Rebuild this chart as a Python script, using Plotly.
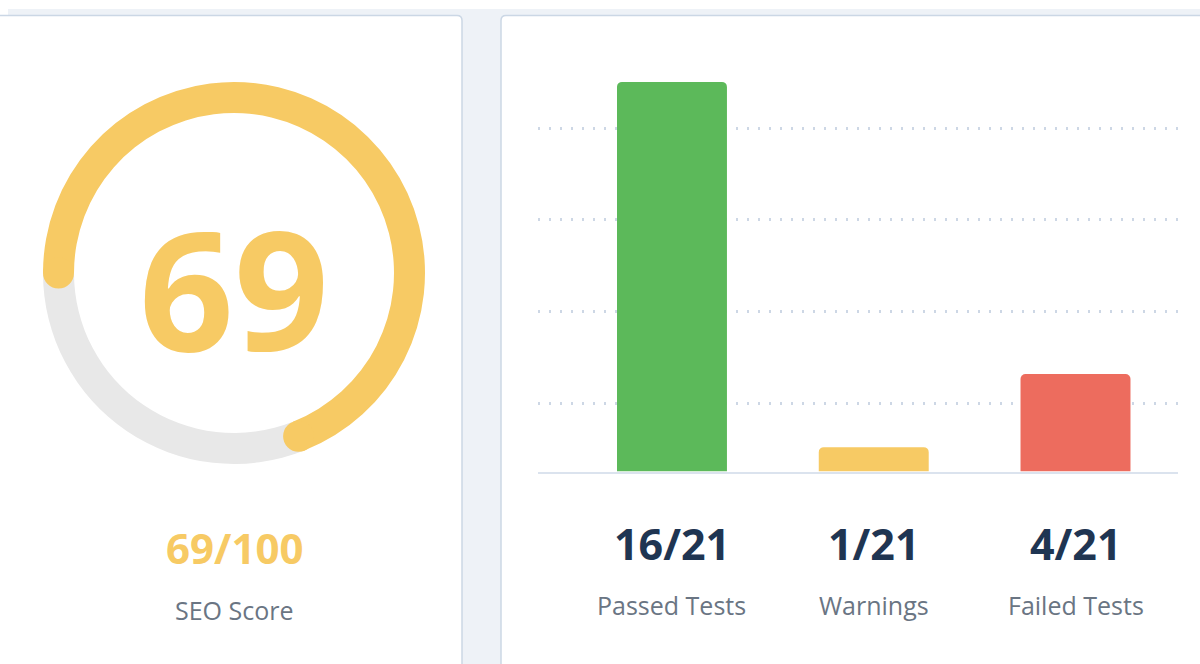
import math
import plotly.graph_objects as go

# ---------------- data ----------------
seo_score = 69
score_max = 100
score_label = "SEO Score"

test_categories = ["Passed Tests", "Warnings", "Failed Tests"]
test_counts = [16, 1, 4]
total_tests = 21

# ---------------- style ----------------
W, H = 1200, 664
YELLOW = "#f7ca64"
TRACK = "#e8e8e8"
BAR_COLORS = ["#5cb95a", "#f7ca64", "#ed6c5e"]
NAVY = "#1f3552"
GRAY_TXT = "#6a7583"
PAGE_BG = "#eef2f7"
CARD_BORDER = "#cbd7e5"
FONT = "Open Sans"


def px(x):
    return x / W


def py(y):
    return 1 - y / H


# gauge geometry (pixels)
GCX, GCY = 234, 273
R_OUT, R_IN = 191, 160

fig = go.Figure()

# ---- gauge (pie) ----
fig.add_trace(go.Pie(
    values=[seo_score, score_max - seo_score],
    marker=dict(colors=[YELLOW, TRACK], line=dict(width=0)),
    hole=R_IN / R_OUT,
    sort=False,
    direction="clockwise",
    rotation=270,
    textinfo="none",
    hoverinfo="skip",
    showlegend=False,
    domain=dict(x=[px(GCX - R_OUT), px(GCX + R_OUT)],
                y=[py(GCY + R_OUT), py(GCY - R_OUT)]),
))

# ---- bar chart ----
fig.add_trace(go.Bar(
    x=test_categories,
    y=test_counts,
    marker=dict(color=BAR_COLORS, line=dict(width=0), cornerradius=5),
    hoverinfo="skip",
    showlegend=False,
))

BASE_PX = 471.5
PX_PER_UNIT = 24.35
YMAX = 17.5
GRID0_PX = 403.5
GRID_STEP_PX = 91.8

fig.update_layout(
    width=W, height=H,
    margin=dict(l=0, r=0, t=0, b=0),
    paper_bgcolor=PAGE_BG,
    plot_bgcolor="rgba(0,0,0,0)",
    bargap=0.455,
    font=dict(family=FONT),
    xaxis=dict(
        domain=[px(538), px(1178)],
        range=[-0.664, 2.508],
        showticklabels=False, ticks="",
        showgrid=False, zeroline=False,
        showline=True, linecolor="#dbe3ee", linewidth=2,
        fixedrange=True,
    ),
    yaxis=dict(
        domain=[py(BASE_PX), py(BASE_PX - YMAX * PX_PER_UNIT)],
        range=[0, YMAX],
        showticklabels=False, ticks="",
        zeroline=False, showline=False,
        showgrid=True, gridcolor="#cdd7e5", gridwidth=3,
        griddash="2px,9px",
        tick0=(BASE_PX - GRID0_PX) / PX_PER_UNIT,
        dtick=GRID_STEP_PX / PX_PER_UNIT,
        fixedrange=True,
    ),
)


def rounded_rect(x0, y0, x1, y1, r):
    # pixel coords (y down) -> paper path
    P = lambda x, y: f"{px(x)},{py(y)}"
    return (f"M {P(x0 + r, y0)} L {P(x1 - r, y0)} Q {P(x1, y0)} {P(x1, y0 + r)} "
            f"L {P(x1, y1)} L {P(x0, y1)} L {P(x0, y0 + r)} Q {P(x0, y0)} {P(x0 + r, y0)} Z")


shapes = []
# white strip at top
shapes.append(dict(type="rect", xref="paper", yref="paper", layer="below",
                   x0=0, x1=1, y0=py(9), y1=1, fillcolor="white", line=dict(width=0)))
shapes.append(dict(type="rect", xref="paper", yref="paper", layer="below",
                   x0=0, x1=px(8), y0=py(16), y1=1, fillcolor="white", line=dict(width=0)))
# cards
for (x0, x1) in [(-10, 462), (501, 1215)]:
    shapes.append(dict(type="path", xref="paper", yref="paper", layer="below",
                       path=rounded_rect(x0, 15.5, x1, 700, 5),
                       fillcolor="white", line=dict(color=CARD_BORDER, width=1.5)))

# round caps of the gauge arc (derived from the score)
r_mid = (R_OUT + R_IN) / 2
cap_r = (R_OUT - R_IN) / 2
start_deg = 270
end_deg = start_deg + 360 * seo_score / score_max
for a in (start_deg, end_deg):
    t = math.radians(a)
    cx = GCX + r_mid * math.sin(t)
    cy = GCY - r_mid * math.cos(t)
    shapes.append(dict(type="circle", xref="paper", yref="paper", layer="above",
                       xsizemode="pixel", ysizemode="pixel",
                       xanchor=px(cx), yanchor=py(cy),
                       x0=-cap_r, x1=cap_r, y0=-cap_r, y1=cap_r,
                       fillcolor=YELLOW, line=dict(width=0)))
fig.update_layout(shapes=shapes)

annotations = []
# big score in the gauge
annotations.append(dict(text=str(seo_score), xref="paper", yref="paper",
                        x=px(GCX), y=py(287), xanchor="center", yanchor="middle",
                        showarrow=False,
                        font=dict(family=FONT, size=166, color=YELLOW, weight=700)))
annotations.append(dict(text=f"{seo_score}/{score_max}", xref="paper", yref="paper",
                        x=px(GCX), y=py(547), xanchor="center", yanchor="middle",
                        showarrow=False,
                        font=dict(family=FONT, size=42, color=YELLOW, weight=700)))
annotations.append(dict(text=score_label, xref="paper", yref="paper",
                        x=px(GCX), y=py(610), xanchor="center", yanchor="middle",
                        showarrow=False,
                        font=dict(family=FONT, size=25, color=GRAY_TXT)))
for cat, v in zip(test_categories, test_counts):
    annotations.append(dict(text=f"{v}/{total_tests}", xref="x", yref="paper",
                            x=cat, y=py(543), xanchor="center", yanchor="middle",
                            showarrow=False,
                            font=dict(family=FONT, size=43, color=NAVY, weight=700)))
    annotations.append(dict(text=cat, xref="x", yref="paper",
                            x=cat, y=py(605), xanchor="center", yanchor="middle",
                            showarrow=False,
                            font=dict(family=FONT, size=25, color=GRAY_TXT)))
fig.update_layout(annotations=annotations)

fig.write_html("out.html")
